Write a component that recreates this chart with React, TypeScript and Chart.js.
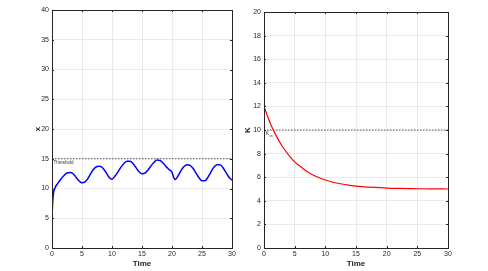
import React, { useEffect, useRef } from "react";
import { Chart, registerables } from "chart.js";

Chart.register(...registerables);

// ---- Data ----
const timeX = [0, 0.1, 0.25, 0.5, 1, 1.5, 2, 2.5, 3, 3.5, 4, 4.5, 5, 5.5, 6, 6.5, 7, 7.5, 8, 8.5, 9, 9.5, 10, 10.5, 11, 11.5, 12, 12.5, 13, 13.5, 14, 14.5, 15, 15.5, 16, 16.5, 17, 17.5, 18, 18.5, 19, 19.5, 20, 20.3, 20.5, 21, 21.5, 22, 22.5, 23, 23.5, 24, 24.5, 25, 25.5, 26, 26.5, 27, 27.5, 28, 28.5, 29, 29.5, 30];
const xValues = [5, 7.5, 9.2, 10.1, 10.9, 11.6, 12.2, 12.6, 12.7, 12.5, 11.9, 11.3, 10.95, 11.1, 11.7, 12.6, 13.3, 13.7, 13.75, 13.4, 12.7, 11.9, 11.55, 12.1, 12.8, 13.6, 14.2, 14.6, 14.6, 14.2, 13.5, 12.8, 12.5, 12.6, 13.1, 13.8, 14.4, 14.8, 14.7, 14.3, 13.7, 13.2, 12.7, 11.8, 11.5, 12.1, 13.0, 13.7, 14.0, 13.9, 13.4, 12.6, 11.8, 11.3, 11.3, 11.9, 12.8, 13.6, 14.0, 14.0, 13.5, 12.7, 11.9, 11.4];
const timeK = [0, 1, 2, 3, 4, 5, 6, 7, 8, 9, 10, 12, 14, 16, 18, 20, 22, 24, 26, 28, 30];
const kValues = [12, 10.6, 9.5, 8.6, 7.9, 7.3, 6.88, 6.48, 6.18, 5.95, 5.76, 5.49, 5.31, 5.2, 5.13, 5.08, 5.05, 5.03, 5.02, 5.01, 5.0];
const thresholdTime = [0, 30];
const xThreshold = [15, 15];
const kSteady = [10, 10];
const xTicks = [0, 5, 10, 15, 20, 25, 30];

const FONT = "'Liberation Sans', Arial, Helvetica, sans-serif";
const AXIS = "#262626";
const GRID = "rgba(38,38,38,0.09)";

const toPts = (xs: number[], ys: number[]) => xs.map((x, i) => ({ x, y: ys[i] }));

const boxPlugin = {
  id: "box",
  afterDatasetsDraw(chart: any) {
    const { ctx, chartArea: a, scales } = chart;
    ctx.save();
    ctx.strokeStyle = AXIS;
    ctx.lineWidth = 1;
    ctx.strokeRect(Math.round(a.left) + 0.5, Math.round(a.top) + 0.5, Math.round(a.right - a.left), Math.round(a.bottom - a.top));
    const tl = 2;
    ctx.beginPath();
    scales.x.ticks.forEach((t: any) => {
      const px = Math.round(scales.x.getPixelForValue(t.value)) + 0.5;
      ctx.moveTo(px, a.bottom); ctx.lineTo(px, a.bottom - tl);
      ctx.moveTo(px, a.top); ctx.lineTo(px, a.top + tl);
    });
    scales.y.ticks.forEach((t: any) => {
      const py = Math.round(scales.y.getPixelForValue(t.value)) + 0.5;
      ctx.moveTo(a.left, py); ctx.lineTo(a.left + tl, py);
      ctx.moveTo(a.right, py); ctx.lineTo(a.right - tl, py);
    });
    ctx.stroke();
    ctx.restore();
  },
};

function makeOptions(yMin: number, yMax: number, step: number, yTitle: string, padding: any, yWidth: number, yTitlePad: number) {
  return {
    responsive: false,
    animation: false as const,
    devicePixelRatio: 1,
    layout: { padding },
    plugins: { legend: { display: false }, tooltip: { enabled: false } },
    elements: { point: { radius: 0 } },
    scales: {
      x: {
        type: "linear" as const,
        min: 0,
        max: 30,
        afterFit: (s: any) => { s.height = 23; },
        afterBuildTicks: (s: any) => { s.ticks = xTicks.map((v) => ({ value: v })); },
        ticks: { stepSize: 5, color: AXIS, font: { family: FONT, size: 7 }, padding: 2, maxRotation: 0 },
        grid: { color: GRID, drawTicks: false },
        border: { display: false },
        title: { display: true, text: "Time", color: AXIS, font: { family: FONT, size: 8, weight: "bold" as const }, padding: { top: 0, bottom: 2 } },
      },
      y: {
        type: "linear" as const,
        min: yMin,
        max: yMax,
        afterFit: (s: any) => { s.width = yWidth; },
        ticks: { stepSize: step, color: AXIS, font: { family: FONT, size: 7 }, padding: 3 },
        grid: { color: GRID, drawTicks: false },
        border: { display: false },
        title: { display: true, text: yTitle, color: AXIS, font: { family: FONT, size: 8, weight: "bold" as const }, padding: { top: yTitlePad, bottom: 0 } },
      },
    },
  };
}

function LeftChart() {
  const ref = useRef<HTMLCanvasElement>(null);
  useEffect(() => {
    const labelPlugin = {
      id: "thrLabel",
      afterDatasetsDraw(chart: any) {
        const { ctx, scales } = chart;
        ctx.save();
        ctx.fillStyle = "#333";
        ctx.font = `4.5px ${FONT}`;
        ctx.textBaseline = "middle";
        ctx.fillText("Threshold", scales.x.getPixelForValue(0) + 1.5, scales.y.getPixelForValue(15) + 4.5);
        ctx.restore();
      },
    };
    const chart = new Chart(ref.current!, {
      type: "line",
      data: {
        datasets: [
          { data: toPts(thresholdTime, xThreshold), borderColor: "#555", borderWidth: 1, borderDash: [1.5, 1.5], pointRadius: 0 },
          { data: toPts(timeX, xValues), borderColor: "#0000ff", borderWidth: 1.5, pointRadius: 0, cubicInterpolationMode: "monotone" },
        ],
      },
      options: makeOptions(0, 40, 5, "x", { left: 30, top: 10, right: 8, bottom: 0 }, 22, 3) as any,
      plugins: [boxPlugin, labelPlugin],
    });
    return () => chart.destroy();
  }, []);
  return <canvas ref={ref} width={240} height={271} style={{ position: "absolute", left: 0, top: 0 }} />;
}

function RightChart() {
  const ref = useRef<HTMLCanvasElement>(null);
  useEffect(() => {
    const labelPlugin = {
      id: "kssLabel",
      afterDatasetsDraw(chart: any) {
        const { ctx, scales } = chart;
        const x0 = scales.x.getPixelForValue(0) + 1.5;
        const y0 = scales.y.getPixelForValue(10) + 4;
        ctx.save();
        ctx.fillStyle = "#333";
        ctx.textBaseline = "middle";
        ctx.font = `5px ${FONT}`;
        ctx.fillText("K", x0, y0);
        const w = ctx.measureText("K").width;
        ctx.font = `3.5px ${FONT}`;
        ctx.fillText("ss", x0 + w + 0.3, y0 + 1.8);
        ctx.restore();
      },
    };
    const chart = new Chart(ref.current!, {
      type: "line",
      data: {
        datasets: [
          { data: toPts(thresholdTime, kSteady), borderColor: "#555", borderWidth: 1, borderDash: [1.5, 1.5], pointRadius: 0 },
          { data: toPts(timeK, kValues), borderColor: "#ff0000", borderWidth: 1.2, pointRadius: 0, cubicInterpolationMode: "monotone" },
        ],
      },
      options: makeOptions(0, 20, 2, "K", { left: 0, top: 12, right: 40, bottom: 0 }, 24, 3) as any,
      plugins: [boxPlugin, labelPlugin],
    });
    return () => chart.destroy();
  }, []);
  return <canvas ref={ref} width={248} height={271} style={{ position: "absolute", left: 240, top: 0 }} />;
}

export default function App() {
  return (
    <div style={{ position: "fixed", left: 0, top: 0, width: 488, height: 271, background: "#fff", overflow: "hidden" }}>
      <LeftChart />
      <RightChart />
    </div>
  );
}
